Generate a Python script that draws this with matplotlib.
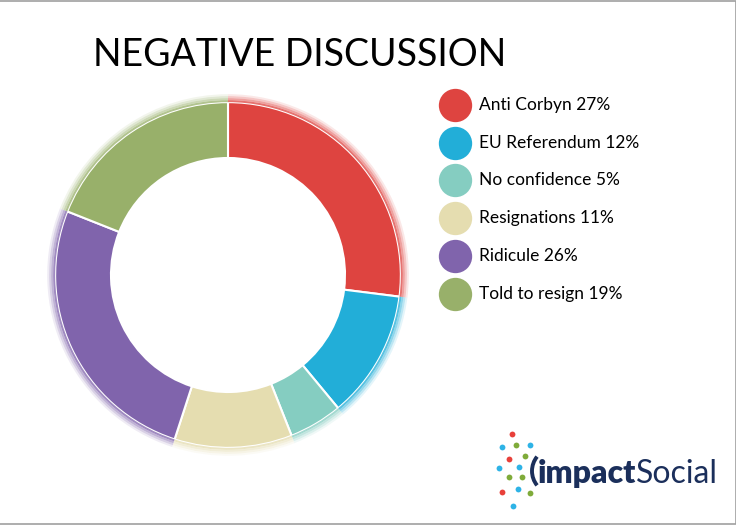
#!/usr/bin/env python3

import matplotlib
matplotlib.use('Agg')
import matplotlib.pyplot as plt
from matplotlib.lines import Line2D
from matplotlib.patches import Arc

# chart data
labels = ['Anti Corbyn', 'EU Referendum', 'No confidence', 'Resignations', 'Ridicule', 'Told to resign']
shares = [27, 12, 5, 11, 26, 19]
colors = ['#de4440', '#22aed8', '#85cdc1', '#e5ddb0', '#8064ac', '#98b06a']
title = 'NEGATIVE DISCUSSION'

# logo dots (decoration only)
logo_dots_x = [512, 502, 516, 530, 509, 525, 499, 519, 509, 522, 502, 518, 530, 513]
logo_dots_y = [434, 447, 445, 445, 459, 456, 468, 467, 477, 477, 492, 489, 493, 506]
logo_dots_c = ['#e8403a', '#2eb3e6', '#7fab3a', '#2eb3e6', '#e8403a', '#7fab3a', '#2eb3e6',
               '#2eb3e6', '#7fab3a', '#7fab3a', '#e8403a', '#2eb3e6', '#7fab3a', '#2eb3e6']

W, H = 736, 525
plt.rcParams['font.family'] = ['Lato', 'DejaVu Sans']

fig = plt.figure(figsize=(W / 100, H / 100), dpi=100)
fig.patch.set_facecolor('white')

# donut
cx, cy, R = 228, 275, 181
ax = fig.add_axes([(cx - R) / W, (H - cy - R) / H, 2 * R / W, 2 * R / H])

inner = 117 / R
ax.pie(shares, colors=colors, startangle=90, counterclock=False, radius=0.955,
       wedgeprops=dict(width=0.955 - inner, edgecolor='white', linewidth=1.5))
# soft outer edge
for i, a in enumerate([0.75, 0.5, 0.3, 0.12]):
    r = 0.955 + 0.011 * (i + 1)
    ax.pie(shares, colors=colors, startangle=90, counterclock=False, radius=r,
           wedgeprops=dict(width=0.011, edgecolor='none', linewidth=0, alpha=a))
ax.set_xlim(-1, 1)
ax.set_ylim(-1, 1)
ax.set_aspect('equal')
ax.axis('off')

# title
fig.text(93 / W, 1 - 66 / H, title, fontsize=27, color='black', ha='left', va='baseline')

# legend
for i, (lab, v, c) in enumerate(zip(labels, shares, colors)):
    y = 105 + i * 37.7
    fig.add_artist(Line2D([455 / W], [1 - y / H], marker='o', markersize=24,
                          markerfacecolor=c, markeredgecolor='none', linestyle='none'))
    fig.text(479 / W, 1 - y / H, f'{lab} {v}%', fontsize=12.5, color='black',
             ha='left', va='center')

# logo
for x, y, c in zip(logo_dots_x, logo_dots_y, logo_dots_c):
    fig.add_artist(Line2D([x / W], [1 - y / H], marker='o', markersize=4.2,
                          markerfacecolor=c, markeredgecolor='none', linestyle='none'))
lax = fig.add_axes([0, 0, 1, 1], facecolor='none')
lax.set_xlim(0, W)
lax.set_ylim(H, 0)
lax.axis('off')
lax.add_patch(Arc((553, 471), 42, 44, theta1=138, theta2=222, color='#1b2f5b', linewidth=2.8))
t = lax.text(538, 483, 'impact', fontsize=23, fontweight='heavy', color='#1b2f5b',
             ha='left', va='baseline')
fig.canvas.draw()
bb = t.get_window_extent()
x_end = lax.transData.inverted().transform((bb.x1, bb.y0))[0]
lax.text(x_end, 483, 'Social', fontsize=23, color='#1b2f5b', ha='left', va='baseline')

# frame
lax.plot([0, W - 0.5, W - 0.5, 0], [0.5, 0.5, H - 1.5, H - 1.5], color='#a0a0a0', linewidth=1.2)

fig.savefig('out.png', dpi=100, facecolor='white')
